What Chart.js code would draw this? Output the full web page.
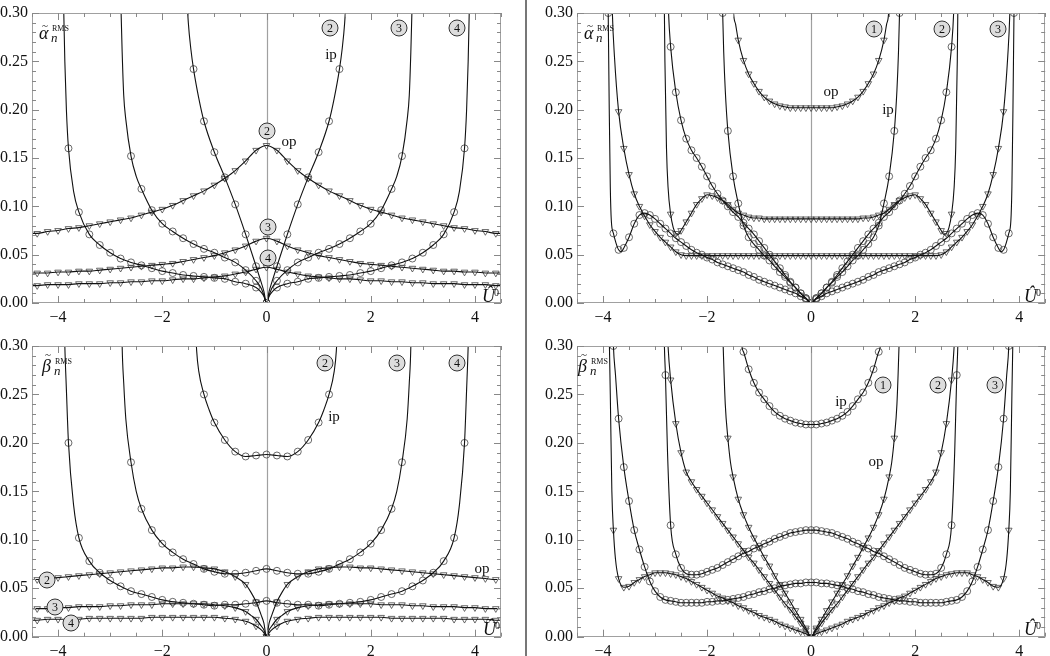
<!DOCTYPE html>
<html>
<head>
<meta charset="utf-8">
<script src="https://cdn.jsdelivr.net/npm/chart.js@4.4.1/dist/chart.umd.min.js"></script>
<style>
  body { margin: 0; background: #fff; }
  #page { position: relative; width: 1050px; height: 656px; overflow: hidden; font-family: "Liberation Serif", serif; color: #111; }
  canvas { position: absolute; }
  #divider { position: absolute; left: 525px; top: 0; width: 2px; height: 656px; background: #777; }
  .c { position: absolute; width: 15px; height: 15px; border: 1px solid #333; border-radius: 50%; background: #ddd;
       font: 12px "Liberation Serif", serif; text-align: center; line-height: 15px; transform: translate(-50%, -50%); }
  .t { position: absolute; font-size: 15px; line-height: 1; transform: translate(-50%, -50%); white-space: nowrap; }
  .a { position: absolute; line-height: 1; white-space: nowrap; }
</style>
</head>
<body>
<div id="page">
  <canvas id="tl" width="524" height="328" style="left:0;top:0"></canvas>
  <canvas id="tr" width="523" height="328" style="left:527px;top:0"></canvas>
  <canvas id="bl" width="524" height="328" style="left:0;top:328px"></canvas>
  <canvas id="br" width="523" height="328" style="left:527px;top:328px"></canvas>
  <div id="divider"></div>

  <!-- haut gauche -->
  <i class="a" style="left:39px;top:24px;font-size:18px">α</i>
  <span class="a" style="left:42px;top:20px;font-size:11px">~</span>
  <span class="a" style="left:52px;top:25px;font-size:8px">RMS</span>
  <i class="a" style="left:51px;top:31px;font-size:13px">n</i>
  <i class="a" style="left:482px;top:287px;font-size:18px">Û</i>
  <span class="a" style="left:494px;top:288px;font-size:10px">0</span>
  <div class="c" style="left:330px;top:28px">2</div>
  <div class="c" style="left:399px;top:28px">3</div>
  <div class="c" style="left:457px;top:28px">4</div>
  <div class="t" style="left:331px;top:54px">ip</div>
  <div class="c" style="left:267px;top:131px">2</div>
  <div class="t" style="left:289px;top:141px">op</div>
  <div class="c" style="left:268px;top:227px">3</div>
  <div class="c" style="left:268px;top:258px">4</div>

  <!-- bas gauche -->
  <i class="a" style="left:42px;top:357px;font-size:18px">β</i>
  <span class="a" style="left:45px;top:349px;font-size:11px">~</span>
  <span class="a" style="left:55px;top:358px;font-size:8px">RMS</span>
  <i class="a" style="left:54px;top:364px;font-size:13px">n</i>
  <i class="a" style="left:483px;top:620px;font-size:18px">Û</i>
  <span class="a" style="left:495px;top:621px;font-size:10px">0</span>
  <div class="c" style="left:325px;top:363px">2</div>
  <div class="c" style="left:397px;top:363px">3</div>
  <div class="c" style="left:457px;top:363px">4</div>
  <div class="t" style="left:334px;top:416px">ip</div>
  <div class="t" style="left:482px;top:568px">op</div>
  <div class="c" style="left:47px;top:580px">2</div>
  <div class="c" style="left:55px;top:607px">3</div>
  <div class="c" style="left:71px;top:623px">4</div>

  <!-- haut droite -->
  <i class="a" style="left:584px;top:24px;font-size:18px">α</i>
  <span class="a" style="left:587px;top:20px;font-size:11px">~</span>
  <span class="a" style="left:597px;top:25px;font-size:8px">RMS</span>
  <i class="a" style="left:596px;top:31px;font-size:13px">n</i>
  <i class="a" style="left:1024px;top:287px;font-size:18px">Û</i>
  <span class="a" style="left:1036px;top:288px;font-size:10px">0</span>
  <div class="c" style="left:874px;top:29px">1</div>
  <div class="c" style="left:942px;top:29px">2</div>
  <div class="c" style="left:998px;top:29px">3</div>
  <div class="t" style="left:831px;top:91px">op</div>
  <div class="t" style="left:888px;top:109px">ip</div>

  <!-- bas droite -->
  <i class="a" style="left:578px;top:357px;font-size:18px">β</i>
  <span class="a" style="left:581px;top:349px;font-size:11px">~</span>
  <span class="a" style="left:591px;top:358px;font-size:8px">RMS</span>
  <i class="a" style="left:590px;top:364px;font-size:13px">n</i>
  <i class="a" style="left:1024px;top:620px;font-size:18px">Û</i>
  <span class="a" style="left:1036px;top:621px;font-size:10px">0</span>
  <div class="c" style="left:883px;top:385px">1</div>
  <div class="c" style="left:938px;top:385px">2</div>
  <div class="c" style="left:995px;top:385px">3</div>
  <div class="t" style="left:841px;top:401px">ip</div>
  <div class="t" style="left:876px;top:461px">op</div>
</div>

<script>
// ===============================
// DONNÉES
// ===============================

const xTicks = [-4, -2, 0, 2, 4];
const yTicks = [0, 0.05, 0.10, 0.15, 0.20, 0.25, 0.30];

// haut gauche : alpha, n = 2, 3, 4
const tlIp2 = [[-1.57,.38],[-1.54,.33],[-1.5,.29],[-1.45,.262],[-1.4,.242],[-1.3,.212],[-1.2,.188],[-1,.156],[-.8,.130],[-.6,.102],[-.4,.071],[-.2,.038],[-.1,.021],[-.05,.012],[0,0],
  [.05,.012],[.1,.021],[.2,.038],[.4,.071],[.6,.102],[.8,.130],[1,.156],[1.2,.188],[1.3,.212],[1.4,.242],[1.45,.262],[1.5,.29],[1.54,.33],[1.57,.38]];
const tlIp3 = [[-2.81,.35],[-2.79,.30],[-2.77,.26],[-2.74,.215],[-2.7,.19],[-2.6,.152],[-2.5,.131],[-2.4,.118],[-2.2,.096],[-2,.082],[-1.8,.074],[-1.6,.067],[-1.4,.061],[-1.2,.056],[-1,.052],[-.8,.047],[-.6,.042],[-.4,.034],[-.2,.023],[-.1,.015],[-.05,.008],[0,0],
  [.05,.008],[.1,.015],[.2,.023],[.4,.034],[.6,.042],[.8,.047],[1,.052],[1.2,.056],[1.4,.061],[1.6,.067],[1.8,.074],[2,.082],[2.2,.096],[2.4,.118],[2.5,.131],[2.6,.152],[2.7,.19],[2.74,.215],[2.77,.26],[2.79,.30],[2.81,.35]];
const tlIp4 = [[-3.92,.36],[-3.89,.30],[-3.87,.25],[-3.84,.20],[-3.8,.16],[-3.7,.115],[-3.6,.094],[-3.4,.071],[-3.2,.060],[-3,.052],[-2.8,.046],[-2.6,.042],[-2.4,.039],[-2.2,.036],[-2,.033],[-1.8,.031],[-1.6,.029],[-1.4,.028],[-1.2,.027],[-1,.026],[-.8,.025],[-.6,.022],[-.4,.020],[-.2,.016],[-.1,.011],[-.05,.007],[0,0],
  [.05,.007],[.1,.011],[.2,.016],[.4,.020],[.6,.022],[.8,.025],[1,.026],[1.2,.027],[1.4,.028],[1.6,.029],[1.8,.031],[2,.033],[2.2,.036],[2.4,.039],[2.6,.042],[2.8,.046],[3,.052],[3.2,.060],[3.4,.071],[3.6,.094],[3.7,.115],[3.8,.16],[3.84,.20],[3.87,.25],[3.89,.30],[3.92,.36]];
const tlOp2 = [[-4.5,.072],[-4.4,.072],[-4.2,.074],[-4,.075],[-3.8,.077],[-3.6,.078],[-3.4,.080],[-3.2,.082],[-3,.084],[-2.8,.086],[-2.6,.088],[-2.4,.091],[-2.2,.094],[-2,.097],[-1.8,.101],[-1.6,.106],[-1.4,.111],[-1.2,.116],[-1,.122],[-.8,.129],[-.6,.137],[-.4,.147],[-.2,.158],[0,.163],
  [.2,.158],[.4,.147],[.6,.137],[.8,.129],[1,.122],[1.2,.116],[1.4,.111],[1.6,.106],[1.8,.101],[2,.097],[2.2,.094],[2.4,.091],[2.6,.088],[2.8,.086],[3,.084],[3.2,.082],[3.4,.080],[3.6,.078],[3.8,.077],[4,.075],[4.2,.074],[4.4,.072],[4.5,.072]];
const tlOp3 = [[-4.5,.031],[-4.4,.031],[-4.2,.031],[-4,.032],[-3.8,.032],[-3.6,.033],[-3.4,.033],[-3.2,.034],[-3,.035],[-2.8,.036],[-2.6,.037],[-2.4,.038],[-2.2,.039],[-2,.040],[-1.8,.041],[-1.6,.043],[-1.4,.045],[-1.2,.047],[-1,.049],[-.8,.052],[-.6,.055],[-.4,.059],[-.2,.064],[0,.067],
  [.2,.064],[.4,.059],[.6,.055],[.8,.052],[1,.049],[1.2,.047],[1.4,.045],[1.6,.043],[1.8,.041],[2,.040],[2.2,.039],[2.4,.038],[2.6,.037],[2.8,.036],[3,.035],[3.2,.034],[3.4,.033],[3.6,.033],[3.8,.032],[4,.032],[4.2,.031],[4.4,.031],[4.5,.031]];
const tlOp4 = [[-4.5,.018],[-4.4,.018],[-4.2,.019],[-4,.019],[-3.8,.019],[-3.6,.020],[-3.4,.020],[-3.2,.020],[-3,.021],[-2.8,.021],[-2.6,.022],[-2.4,.022],[-2.2,.023],[-2,.023],[-1.8,.024],[-1.6,.025],[-1.4,.025],[-1.2,.026],[-1,.027],[-.8,.028],[-.6,.030],[-.4,.032],[-.2,.035],[0,.037],
  [.2,.035],[.4,.032],[.6,.030],[.8,.028],[1,.027],[1.2,.026],[1.4,.025],[1.6,.025],[1.8,.024],[2,.023],[2.2,.023],[2.4,.022],[2.6,.022],[2.8,.021],[3,.021],[3.2,.020],[3.4,.020],[3.6,.020],[3.8,.019],[4,.019],[4.2,.019],[4.4,.018],[4.5,.018]];

// bas gauche : beta, n = 2, 3, 4
const blIp2 = [[-1.4,.38],[-1.37,.33],[-1.34,.295],[-1.3,.274],[-1.2,.250],[-1.1,.234],[-1,.221],[-.8,.203],[-.6,.191],[-.4,.186],[-.2,.187],[0,.188],
  [.2,.187],[.4,.186],[.6,.191],[.8,.203],[1,.221],[1.1,.234],[1.2,.250],[1.3,.274],[1.34,.295],[1.37,.33],[1.4,.38]];
const blIp3 = [[-2.79,.37],[-2.77,.30],[-2.74,.262],[-2.7,.225],[-2.6,.180],[-2.5,.150],[-2.4,.132],[-2.2,.110],[-2,.096],[-1.8,.087],[-1.6,.080],[-1.4,.075],[-1.2,.070],[-1,.067],[-.8,.065],[-.6,.065],[-.4,.066],[-.2,.068],[0,.070],
  [.2,.068],[.4,.066],[.6,.065],[.8,.065],[1,.067],[1.2,.070],[1.4,.075],[1.6,.080],[1.8,.087],[2,.096],[2.2,.110],[2.4,.132],[2.5,.150],[2.6,.180],[2.7,.225],[2.74,.262],[2.77,.30],[2.79,.37]];
const blIp4 = [[-3.9,.37],[-3.87,.30],[-3.84,.255],[-3.8,.20],[-3.7,.135],[-3.6,.102],[-3.4,.078],[-3.2,.066],[-3,.058],[-2.8,.052],[-2.6,.047],[-2.4,.044],[-2.2,.041],[-2,.038],[-1.8,.036],[-1.6,.035],[-1.4,.034],[-1.2,.033],[-1,.032],[-.8,.033],[-.6,.033],[-.4,.034],[-.2,.035],[0,.037],
  [.2,.035],[.4,.034],[.6,.033],[.8,.033],[1,.032],[1.2,.033],[1.4,.034],[1.6,.035],[1.8,.036],[2,.038],[2.2,.041],[2.4,.044],[2.6,.047],[2.8,.052],[3,.058],[3.2,.066],[3.4,.078],[3.6,.102],[3.7,.135],[3.8,.20],[3.84,.255],[3.87,.30],[3.9,.37]];
const blOp2 = [[-4.5,.059],[-4.4,.059],[-4.2,.060],[-4,.061],[-3.8,.062],[-3.6,.063],[-3.4,.064],[-3.2,.065],[-3,.066],[-2.8,.067],[-2.6,.068],[-2.4,.069],[-2.2,.070],[-2,.071],[-1.8,.071],[-1.6,.072],[-1.4,.072],[-1.2,.071],[-1,.070],[-.8,.067],[-.6,.062],[-.4,.054],[-.3,.046],[-.2,.036],[-.1,.022],[-.05,.014],[0,0],
  [.05,.014],[.1,.022],[.2,.036],[.3,.046],[.4,.054],[.6,.062],[.8,.067],[1,.070],[1.2,.071],[1.4,.072],[1.6,.072],[1.8,.071],[2,.071],[2.2,.070],[2.4,.069],[2.6,.068],[2.8,.067],[3,.066],[3.2,.065],[3.4,.064],[3.6,.063],[3.8,.062],[4,.061],[4.2,.060],[4.4,.059],[4.5,.059]];
const blOp3 = [[-4.5,.029],[-4.4,.029],[-4.2,.029],[-4,.030],[-3.8,.030],[-3.6,.031],[-3.4,.031],[-3.2,.031],[-3,.032],[-2.8,.032],[-2.6,.033],[-2.4,.033],[-2.2,.033],[-2,.034],[-1.8,.034],[-1.6,.034],[-1.4,.034],[-1.2,.034],[-1,.033],[-.8,.032],[-.6,.030],[-.4,.026],[-.3,.022],[-.2,.018],[-.1,.011],[-.05,.007],[0,0],
  [.05,.007],[.1,.011],[.2,.018],[.3,.022],[.4,.026],[.6,.030],[.8,.032],[1,.033],[1.2,.034],[1.4,.034],[1.6,.034],[1.8,.034],[2,.034],[2.2,.033],[2.4,.033],[2.6,.033],[2.8,.032],[3,.032],[3.2,.031],[3.4,.031],[3.6,.031],[3.8,.030],[4,.030],[4.2,.029],[4.4,.029],[4.5,.029]];
const blOp4 = [[-4.5,.017],[-4.4,.017],[-4.2,.018],[-4,.018],[-3.8,.018],[-3.6,.018],[-3.4,.019],[-3.2,.019],[-3,.019],[-2.8,.019],[-2.6,.019],[-2.4,.019],[-2.2,.020],[-2,.020],[-1.8,.020],[-1.6,.020],[-1.4,.020],[-1.2,.020],[-1,.020],[-.8,.019],[-.6,.018],[-.4,.016],[-.3,.014],[-.2,.011],[-.1,.007],[-.05,.004],[0,0],
  [.05,.004],[.1,.007],[.2,.011],[.3,.014],[.4,.016],[.6,.018],[.8,.019],[1,.020],[1.2,.020],[1.4,.020],[1.6,.020],[1.8,.020],[2,.020],[2.2,.020],[2.4,.019],[2.6,.019],[2.8,.019],[3,.019],[3.2,.019],[3.4,.019],[3.6,.018],[3.8,.018],[4,.018],[4.2,.018],[4.4,.017],[4.5,.017]];

// haut droite : alpha, n = 1, 2, 3
const trIp1 = [[-1.72,.35],[-1.7,.30],[-1.68,.26],[-1.65,.22],[-1.6,.178],[-1.5,.131],[-1.4,.103],[-1.3,.080],[-1.2,.068],[-1.1,.061],[-1,.055],[-.9,.049],[-.8,.044],[-.7,.038],[-.6,.032],[-.5,.027],[-.4,.021],[-.3,.016],[-.2,.010],[-.1,.005],[0,0],
  [.1,.005],[.2,.010],[.3,.016],[.4,.021],[.5,.027],[.6,.032],[.7,.038],[.8,.044],[.9,.049],[1,.055],[1.1,.061],[1.2,.068],[1.3,.080],[1.4,.103],[1.5,.131],[1.6,.178],[1.65,.22],[1.68,.26],[1.7,.30],[1.72,.35]];
const trIp2 = [[-2.77,.36],[-2.74,.30],[-2.7,.265],[-2.6,.218],[-2.5,.189],[-2.4,.170],[-2.3,.158],[-2.2,.150],[-2.1,.141],[-2,.131],[-1.9,.121],[-1.8,.113],[-1.7,.106],[-1.6,.100],[-1.5,.094],[-1.4,.089],[-1.3,.083],[-1.2,.077],[-1.1,.071],[-1,.064],[-.9,.057],[-.8,.050],[-.7,.043],[-.6,.036],[-.5,.029],[-.4,.022],[-.3,.016],[-.2,.010],[-.1,.005],[0,0],
  [.1,.005],[.2,.010],[.3,.016],[.4,.022],[.5,.029],[.6,.036],[.7,.043],[.8,.050],[.9,.057],[1,.064],[1.1,.071],[1.2,.077],[1.3,.083],[1.4,.089],[1.5,.094],[1.6,.100],[1.7,.106],[1.8,.113],[1.9,.121],[2,.131],[2.1,.141],[2.2,.150],[2.3,.158],[2.4,.170],[2.5,.189],[2.6,.218],[2.7,.265],[2.74,.30],[2.77,.36]];
const trIp3 = [[-3.91,.36],[-3.9,.30],[-3.88,.20],[-3.86,.12],[-3.84,.085],[-3.8,.072],[-3.75,.062],[-3.7,.055],[-3.65,.053],[-3.6,.057],[-3.5,.068],[-3.4,.082],[-3.3,.091],[-3.2,.093],[-3.1,.091],[-3,.087],[-2.9,.082],[-2.8,.077],[-2.7,.072],[-2.6,.067],[-2.5,.063],[-2.4,.059],[-2.3,.055],[-2.2,.052],[-2.1,.050],[-2,.047],[-1.9,.045],[-1.8,.042],[-1.7,.040],[-1.6,.038],[-1.5,.036],[-1.4,.034],[-1.3,.032],[-1.2,.029],[-1.1,.027],[-1,.024],[-.9,.022],[-.8,.020],[-.7,.018],[-.6,.016],[-.5,.014],[-.4,.012],[-.3,.010],[-.2,.007],[-.1,.004],[0,0],
  [.1,.004],[.2,.007],[.3,.010],[.4,.012],[.5,.014],[.6,.016],[.7,.018],[.8,.020],[.9,.022],[1,.024],[1.1,.027],[1.2,.029],[1.3,.032],[1.4,.034],[1.5,.036],[1.6,.038],[1.7,.040],[1.8,.042],[1.9,.045],[2,.047],[2.1,.050],[2.2,.052],[2.3,.055],[2.4,.059],[2.5,.063],[2.6,.067],[2.7,.072],[2.8,.077],[2.9,.082],[3,.087],[3.1,.091],[3.2,.093],[3.3,.091],[3.4,.082],[3.5,.068],[3.6,.057],[3.65,.053],[3.7,.055],[3.75,.062],[3.8,.072],[3.84,.085],[3.86,.12],[3.88,.20],[3.9,.30],[3.91,.36]];
const trOp1 = [[-1.52,.34],[-1.49,.30],[-1.45,.288],[-1.4,.272],[-1.3,.251],[-1.2,.237],[-1.1,.227],[-1,.219],[-.9,.213],[-.8,.209],[-.7,.206],[-.6,.204],[-.5,.203],[-.4,.202],[-.3,.202],[-.2,.202],[-.1,.202],[0,.202],
  [.1,.202],[.2,.202],[.3,.202],[.4,.202],[.5,.203],[.6,.204],[.7,.206],[.8,.209],[.9,.213],[1,.219],[1.1,.227],[1.2,.237],[1.3,.251],[1.4,.272],[1.45,.288],[1.49,.30],[1.52,.34]];
const trOp2 = [[-2.83,.36],[-2.82,.30],[-2.81,.25],[-2.78,.16],[-2.75,.12],[-2.7,.092],[-2.65,.078],[-2.6,.072],[-2.55,.071],[-2.5,.075],[-2.4,.084],[-2.3,.093],[-2.2,.102],[-2.1,.108],[-2,.112],[-1.9,.111],[-1.8,.109],[-1.7,.106],[-1.6,.102],[-1.5,.097],[-1.4,.093],[-1.3,.091],[-1.2,.089],[-1.1,.088],[-1,.088],[-.9,.087],[-.8,.087],[-.7,.087],[-.6,.087],[-.5,.087],[-.4,.087],[-.3,.087],[-.2,.087],[-.1,.087],[0,.087],
  [.1,.087],[.2,.087],[.3,.087],[.4,.087],[.5,.087],[.6,.087],[.7,.087],[.8,.087],[.9,.087],[1,.088],[1.1,.088],[1.2,.089],[1.3,.091],[1.4,.093],[1.5,.097],[1.6,.102],[1.7,.106],[1.8,.109],[1.9,.111],[2,.112],[2.1,.108],[2.2,.102],[2.3,.093],[2.4,.084],[2.5,.075],[2.55,.071],[2.6,.072],[2.65,.078],[2.7,.092],[2.75,.12],[2.78,.16],[2.81,.25],[2.82,.30],[2.83,.36]];
const trOp3 = [[-3.84,.35],[-3.82,.30],[-3.78,.255],[-3.7,.198],[-3.6,.160],[-3.5,.133],[-3.4,.113],[-3.3,.100],[-3.2,.090],[-3.1,.081],[-3,.074],[-2.9,.068],[-2.8,.063],[-2.7,.058],[-2.6,.053],[-2.5,.050],[-2.4,.049],[-2.3,.049],[-2.2,.049],[-2.1,.049],[-2,.049],[-1.9,.049],[-1.8,.049],[-1.7,.049],[-1.6,.049],[-1.5,.049],[-1.4,.049],[-1.3,.049],[-1.2,.049],[-1.1,.049],[-1,.049],[-.9,.049],[-.8,.049],[-.7,.049],[-.6,.049],[-.5,.049],[-.4,.049],[-.3,.049],[-.2,.049],[-.1,.049],[0,.049],
  [.1,.049],[.2,.049],[.3,.049],[.4,.049],[.5,.049],[.6,.049],[.7,.049],[.8,.049],[.9,.049],[1,.049],[1.1,.049],[1.2,.049],[1.3,.049],[1.4,.049],[1.5,.049],[1.6,.049],[1.7,.049],[1.8,.049],[1.9,.049],[2,.049],[2.1,.049],[2.2,.049],[2.3,.049],[2.4,.049],[2.5,.050],[2.6,.053],[2.7,.058],[2.8,.063],[2.9,.068],[3,.074],[3.1,.081],[3.2,.090],[3.3,.100],[3.4,.113],[3.5,.133],[3.6,.160],[3.7,.198],[3.78,.255],[3.82,.30],[3.84,.35]];

// bas droite : beta, n = 1, 2, 3
const brIp1 = [[-1.36,.34],[-1.33,.30],[-1.3,.294],[-1.2,.276],[-1.1,.262],[-1,.252],[-.9,.245],[-.8,.238],[-.7,.232],[-.6,.228],[-.5,.225],[-.4,.223],[-.3,.221],[-.2,.220],[-.1,.219],[0,.219],
  [.1,.219],[.2,.220],[.3,.221],[.4,.223],[.5,.225],[.6,.228],[.7,.232],[.8,.238],[.9,.245],[1,.252],[1.1,.262],[1.2,.276],[1.3,.294],[1.33,.30],[1.36,.34]];
const brIp2 = [[-2.84,.36],[-2.82,.30],[-2.8,.27],[-2.76,.19],[-2.7,.115],[-2.6,.085],[-2.5,.071],[-2.4,.065],[-2.3,.064],[-2.2,.064],[-2.1,.065],[-2,.067],[-1.9,.069],[-1.8,.071],[-1.7,.074],[-1.6,.077],[-1.5,.080],[-1.4,.083],[-1.3,.086],[-1.2,.088],[-1.1,.091],[-1,.093],[-.9,.096],[-.8,.098],[-.7,.101],[-.6,.103],[-.5,.105],[-.4,.107],[-.3,.108],[-.2,.109],[-.1,.110],[0,.110],
  [.1,.110],[.2,.109],[.3,.108],[.4,.107],[.5,.105],[.6,.103],[.7,.101],[.8,.098],[.9,.096],[1,.093],[1.1,.091],[1.2,.088],[1.3,.086],[1.4,.083],[1.5,.080],[1.6,.077],[1.7,.074],[1.8,.071],[1.9,.069],[2,.067],[2.1,.065],[2.2,.064],[2.3,.064],[2.4,.065],[2.5,.071],[2.6,.085],[2.7,.115],[2.76,.19],[2.8,.27],[2.82,.30],[2.84,.36]];
const brIp3 = [[-3.83,.36],[-3.8,.30],[-3.76,.27],[-3.7,.225],[-3.6,.175],[-3.5,.140],[-3.4,.110],[-3.3,.090],[-3.2,.072],[-3.1,.057],[-3,.047],[-2.9,.041],[-2.8,.038],[-2.7,.037],[-2.6,.036],[-2.5,.035],[-2.4,.035],[-2.3,.035],[-2.2,.035],[-2.1,.035],[-2,.036],[-1.9,.036],[-1.8,.037],[-1.7,.037],[-1.6,.038],[-1.5,.039],[-1.4,.040],[-1.3,.041],[-1.2,.043],[-1.1,.044],[-1,.046],[-.9,.047],[-.8,.049],[-.7,.050],[-.6,.052],[-.5,.053],[-.4,.054],[-.3,.055],[-.2,.055],[-.1,.056],[0,.056],
  [.1,.056],[.2,.055],[.3,.055],[.4,.054],[.5,.053],[.6,.052],[.7,.050],[.8,.049],[.9,.047],[1,.046],[1.1,.044],[1.2,.043],[1.3,.041],[1.4,.040],[1.5,.039],[1.6,.038],[1.7,.037],[1.8,.037],[1.9,.036],[2,.036],[2.1,.035],[2.2,.035],[2.3,.035],[2.4,.035],[2.5,.035],[2.6,.036],[2.7,.037],[2.8,.038],[2.9,.041],[3,.047],[3.1,.057],[3.2,.072],[3.3,.090],[3.4,.110],[3.5,.140],[3.6,.175],[3.7,.225],[3.76,.27],[3.8,.30],[3.83,.36]];
const brOp1 = [[-1.71,.34],[-1.69,.30],[-1.65,.24],[-1.6,.205],[-1.55,.18],[-1.5,.165],[-1.4,.142],[-1.3,.126],[-1.2,.113],[-1.1,.102],[-1,.092],[-.9,.082],[-.8,.073],[-.7,.063],[-.6,.054],[-.5,.045],[-.4,.036],[-.3,.027],[-.2,.018],[-.1,.009],[0,0],
  [.1,.009],[.2,.018],[.3,.027],[.4,.036],[.5,.045],[.6,.054],[.7,.063],[.8,.073],[.9,.082],[1,.092],[1.1,.102],[1.2,.113],[1.3,.126],[1.4,.142],[1.5,.165],[1.55,.18],[1.6,.205],[1.65,.24],[1.69,.30],[1.71,.34]];
const brOp2 = [[-2.78,.34],[-2.75,.30],[-2.7,.265],[-2.6,.22],[-2.5,.19],[-2.4,.170],[-2.3,.160],[-2.2,.152],[-2.1,.145],[-2,.138],[-1.9,.131],[-1.8,.124],[-1.7,.117],[-1.6,.110],[-1.5,.103],[-1.4,.096],[-1.3,.089],[-1.2,.082],[-1.1,.076],[-1,.069],[-.9,.062],[-.8,.055],[-.7,.048],[-.6,.041],[-.5,.034],[-.4,.028],[-.3,.021],[-.2,.014],[-.1,.007],[0,0],
  [.1,.007],[.2,.014],[.3,.021],[.4,.028],[.5,.034],[.6,.041],[.7,.048],[.8,.055],[.9,.062],[1,.069],[1.1,.076],[1.2,.082],[1.3,.089],[1.4,.096],[1.5,.103],[1.6,.110],[1.7,.117],[1.8,.124],[1.9,.131],[2,.138],[2.1,.145],[2.2,.152],[2.3,.160],[2.4,.170],[2.5,.19],[2.6,.22],[2.7,.265],[2.75,.30],[2.78,.34]];
const brOp3 = [[-3.88,.31],[-3.86,.25],[-3.83,.15],[-3.8,.11],[-3.76,.08],[-3.7,.06],[-3.6,.051],[-3.5,.052],[-3.4,.056],[-3.3,.059],[-3.2,.062],[-3.1,.064],[-3,.066],[-2.9,.066],[-2.8,.066],[-2.7,.065],[-2.6,.064],[-2.5,.062],[-2.4,.060],[-2.3,.057],[-2.2,.054],[-2.1,.051],[-2,.048],[-1.9,.045],[-1.8,.042],[-1.7,.040],[-1.6,.037],[-1.5,.035],[-1.4,.032],[-1.3,.030],[-1.2,.027],[-1.1,.025],[-1,.022],[-.9,.020],[-.8,.018],[-.7,.016],[-.6,.013],[-.5,.011],[-.4,.009],[-.3,.007],[-.2,.005],[-.1,.003],[0,0],
  [.1,.003],[.2,.005],[.3,.007],[.4,.009],[.5,.011],[.6,.013],[.7,.016],[.8,.018],[.9,.020],[1,.022],[1.1,.025],[1.2,.027],[1.3,.030],[1.4,.032],[1.5,.035],[1.6,.037],[1.7,.040],[1.8,.042],[1.9,.045],[2,.048],[2.1,.051],[2.2,.054],[2.3,.057],[2.4,.060],[2.5,.062],[2.6,.064],[2.7,.065],[2.8,.066],[2.9,.066],[3,.066],[3.1,.064],[3.2,.062],[3.3,.059],[3.4,.056],[3.5,.052],[3.6,.051],[3.7,.06],[3.76,.08],[3.8,.11],[3.83,.15],[3.86,.25],[3.88,.31]];

// ===============================
// PANNEAUX
// ===============================

const panels = [
  { id: 'tl', step: 0.2, pad: { left: 32, right: 23, top: 13, bottom: 25 },
    curves: [[tlIp2, 'o'], [tlIp3, 'o'], [tlIp4, 'o'], [tlOp2, 'v'], [tlOp3, 'v'], [tlOp4, 'v']] },
  { id: 'bl', step: 0.2, pad: { left: 32, right: 23, top: 18, bottom: 19.3 },
    curves: [[blIp2, 'o'], [blIp3, 'o'], [blIp4, 'o'], [blOp2, 'v'], [blOp3, 'v'], [blOp4, 'v']] },
  { id: 'tr', step: 0.1, pad: { left: 50, right: 4, top: 13, bottom: 25 },
    curves: [[trIp1, 'o'], [trIp2, 'o'], [trIp3, 'o'], [trOp1, 'v'], [trOp2, 'v'], [trOp3, 'v']] },
  { id: 'br', step: 0.1, pad: { left: 50, right: 4, top: 18, bottom: 19.3 },
    curves: [[brIp1, 'o'], [brIp2, 'o'], [brIp3, 'o'], [brOp1, 'v'], [brOp2, 'v'], [brOp3, 'v']] }
];

const onGrid = (v, step) => Math.abs(v / step - Math.round(v / step)) < 1e-6;

// cadre, graduations et étiquettes façon Mathematica
const framePlugin = {
  id: 'frame',
  beforeDatasetsDraw(chart) {
    const { ctx, chartArea: a, scales: { x } } = chart;
    const x0 = Math.round(x.getPixelForValue(0)) + 0.5;
    ctx.save();
    ctx.strokeStyle = '#a0a0a0';
    ctx.lineWidth = 1.2;
    ctx.beginPath();
    ctx.moveTo(x0, a.top);
    ctx.lineTo(x0, a.bottom);
    ctx.stroke();
    ctx.restore();
  },
  afterDatasetsDraw(chart) {
    const { ctx, chartArea: a, scales: { x, y } } = chart;
    ctx.save();
    ctx.strokeStyle = '#a0a0a0';
    ctx.lineWidth = 1;
    ctx.strokeRect(Math.round(a.left) + .5, Math.round(a.top) + .5, Math.round(a.right - a.left) - 1, Math.round(a.bottom - a.top) - 1);

    ctx.strokeStyle = '#888';
    ctx.beginPath();
    for (let k = Math.ceil(x.min * 2); k <= Math.floor(x.max * 2); k++) {
      const px = Math.round(x.getPixelForValue(k / 2)) + .5;
      const len = k % 4 === 0 ? 7 : 4;
      ctx.moveTo(px, a.bottom); ctx.lineTo(px, a.bottom - len);
      ctx.moveTo(px, a.top); ctx.lineTo(px, a.top + len);
    }
    for (let k = 0; k <= 30; k++) {
      const py = Math.round(y.getPixelForValue(k / 100)) + .5;
      const len = k % 5 === 0 ? 7 : 4;
      ctx.moveTo(a.left, py); ctx.lineTo(a.left + len, py);
      ctx.moveTo(a.right, py); ctx.lineTo(a.right - len, py);
    }
    ctx.stroke();

    ctx.fillStyle = '#111';
    ctx.font = '16px "Liberation Serif"';
    ctx.textBaseline = 'middle';
    ctx.textAlign = 'center';
    xTicks.forEach(v => {
      ctx.fillText(v < 0 ? '\u2212' + Math.abs(v) : String(v), x.getPixelForValue(v), a.bottom + 15);
    });
    ctx.textAlign = 'right';
    yTicks.forEach(v => {
      ctx.fillText(v.toFixed(2), a.left - 4, y.getPixelForValue(v));
    });
    ctx.restore();
  }
};

panels.forEach(p => {
  const lines = p.curves.map(([d]) => ({
    data: d,
    showLine: true,
    pointRadius: 0,
    borderColor: '#111',
    borderWidth: 1.1,
    cubicInterpolationMode: 'monotone'
  }));
  const marks = p.curves.map(([d, m]) => ({
    data: d,
    showLine: false,
    pointStyle: m === 'v' ? 'triangle' : 'circle',
    rotation: m === 'v' ? 180 : 0,
    pointRadius: c => onGrid(c.raw[0], p.step) ? (m === 'v' ? 3.8 : 3.5) : 0,
    pointBorderColor: '#444',
    pointBackgroundColor: 'rgba(0,0,0,0)',
    pointBorderWidth: 0.8
  }));

  new Chart(document.getElementById(p.id), {
    type: 'scatter',
    data: { datasets: [...lines, ...marks] },
    options: {
      responsive: false,
      animation: false,
      devicePixelRatio: 1,
      events: [],
      layout: { padding: p.pad },
      plugins: { legend: { display: false }, tooltip: { enabled: false } },
      scales: {
        x: { type: 'linear', min: -4.5, max: 4.5, display: false },
        y: { type: 'linear', min: 0, max: 0.3, display: false }
      }
    },
    plugins: [framePlugin]
  });
});
</script>
</body>
</html>
